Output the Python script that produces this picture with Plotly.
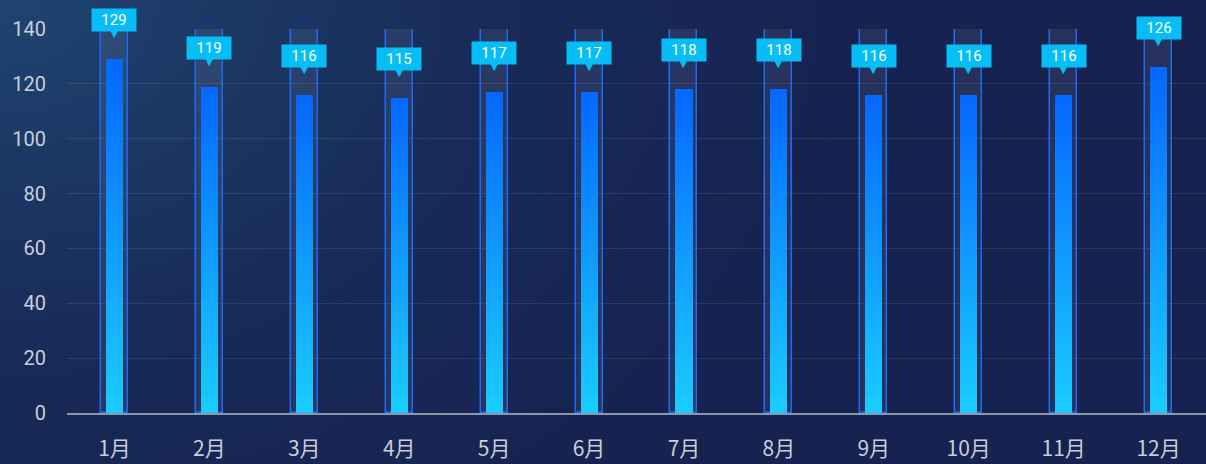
import plotly.graph_objects as go
import urllib.parse

# ---- data ----
months = ["1月", "2月", "3月", "4月", "5月", "6月", "7月", "8月", "9月", "10月", "11月", "12月"]
values = [129, 119, 116, 115, 117, 117, 118, 118, 116, 116, 116, 126]
bg_max = [140] * 12
y_ticks = [0, 20, 40, 60, 80, 100, 120, 140]

W, H = 1206, 464
ML, MR, MT, MB = 67, 0, 29, 51

fig = go.Figure()

# background "max" bars
fig.add_trace(go.Bar(
    x=months, y=bg_max, width=0.285,
    marker=dict(color="rgba(255,255,255,0.07)", line=dict(color="#1a6cf2", width=1.5)),
    hoverinfo="skip", showlegend=False,
))

# gradient front bars built from stacked overlays (top colour -> bottom colour)
top_rgb = (6, 104, 255)
bot_rgb = (26, 206, 255)
N = 40
for k in range(N, 0, -1):
    f = k / N
    c = tuple(round(bot_rgb[i] + (top_rgb[i] - bot_rgb[i]) * f) for i in range(3))
    fig.add_trace(go.Bar(
        x=months, y=[v * f for v in values], width=0.18,
        marker=dict(color="rgb(%d,%d,%d)" % c, line=dict(width=0)),
        hoverinfo="skip", showlegend=False,
    ))

# value labels with pointer
anns = []
for m, v in zip(months, values):
    anns.append(dict(
        x=m, y=v, xref="x", yref="y", text="▼", showarrow=False,
        yanchor="top", yshift=34,
        font=dict(family="DejaVu Sans", size=11, color="#06bdf6"),
    ))
    anns.append(dict(
        x=m, y=v, xref="x", yref="y", text=str(v), showarrow=False,
        yanchor="bottom", yshift=27, bgcolor="#06bdf6", borderpad=1,
        width=42, height=20,
        font=dict(family="Roboto, Noto Sans, sans-serif", size=15, color="#ffffff"),
    ))

svg = (
    '<svg xmlns="http://www.w3.org/2000/svg" width="1206" height="464" viewBox="0 0 1206 464" preserveAspectRatio="none">'
    '<defs><radialGradient id="g" cx="0" cy="0" r="1" gradientUnits="objectBoundingBox" '
    'gradientTransform="scale(0.75,1.4)">'
    '<stop offset="0" stop-color="#1f4470"/>'
    '<stop offset="0.55" stop-color="#182a58"/>'
    '<stop offset="1" stop-color="#162250"/>'
    '</radialGradient></defs>'
    '<rect x="0" y="0" width="1206" height="464" fill="url(#g)"/></svg>'
)
src = "data:image/svg+xml;charset=utf-8," + urllib.parse.quote(svg)
pw, ph = W - ML - MR, H - MT - MB

fig.update_layout(
    width=W, height=H,
    margin=dict(l=ML, r=MR, t=MT, b=MB),
    paper_bgcolor="#172452", plot_bgcolor="rgba(0,0,0,0)",
    barmode="overlay", bargap=0,
    annotations=anns,
    images=[dict(source=src, xref="paper", yref="paper",
                 x=-ML / pw, y=1 + MT / ph, sizex=W / pw, sizey=H / ph,
                 xanchor="left", yanchor="top", sizing="stretch", layer="below")],
    xaxis=dict(
        type="category", showgrid=False, showline=True, linecolor="#8d95a8", linewidth=2,
        ticks="outside", ticklen=0, ticklabelstandoff=16,
        tickfont=dict(family="Noto Sans CJK SC, Roboto", size=21, color="#c9ced9"),
        fixedrange=True,
    ),
    yaxis=dict(
        range=[0, 140], tickvals=y_ticks, showgrid=True, gridcolor="rgba(255,255,255,0.09)",
        gridwidth=1, zeroline=False, showline=False, ticklabelstandoff=20,
        tickfont=dict(family="Roboto, Noto Sans", size=20, color="#c9ced9"),
        fixedrange=True,
    ),
    font=dict(family="Roboto, Noto Sans CJK SC"),
)

fig.write_html("out.html", config={"displayModeBar": False},
               post_script="document.body.style.margin='0';document.body.style.overflow='hidden';")
